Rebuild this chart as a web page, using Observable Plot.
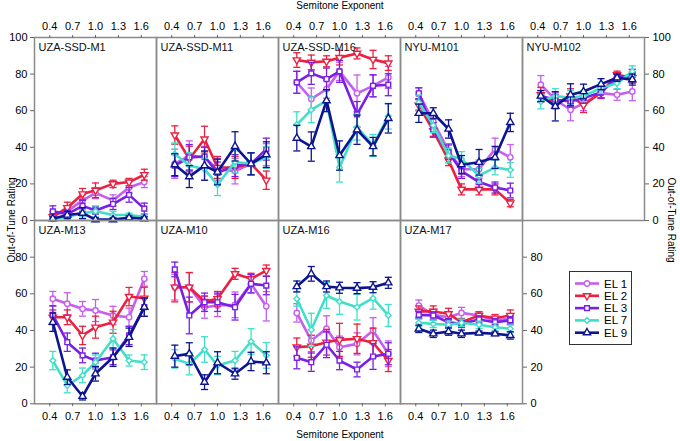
<!DOCTYPE html>
<html><head><meta charset="utf-8">
<script src="https://cdn.jsdelivr.net/npm/d3@7"></script>
<script src="https://cdn.jsdelivr.net/npm/@observablehq/plot@0.6"></script>
<style>
body{margin:0;background:#fff;font-family:"Liberation Sans",Arial,sans-serif;}
#wrap{position:relative;width:680px;height:441px;overflow:hidden;}
#wrap svg{overflow:visible;}
.abs{position:absolute;white-space:nowrap;color:#000;}
</style></head><body><div id="wrap"></div>
<script>
// ---------- data ----------
const exponents = [0.44, 0.63, 0.83, 1.0, 1.23, 1.44, 1.64];
const xTicks = [0.4, 0.7, 1.0, 1.3, 1.6];
const yTicksRow1 = [0, 20, 40, 60, 80, 100];
const yTicksRow2 = [0, 20, 40, 60, 80];
const seriesNames = ["EL 1", "EL 2", "EL 3", "EL 7", "EL 9"];
const seriesColors = ["#c65ef0", "#ec2140", "#7a1fe6", "#40e0c8", "#0c1490"];
const row1Panels = ["UZA-SSD-M1", "UZA-SSD-M11", "UZA-SSD-M16", "NYU-M101", "NYU-M102"];
const row2Panels = ["UZA-M13", "UZA-M10", "UZA-M16", "UZA-M17"];

// rows within each panel: EL 1, EL 2, EL 3, EL 7, EL 9
const meanUZASSDM1 = [
  [3, 5, 11, 15, 11, 18, 21],
  [2, 7, 14.5, 16.5, 20, 21, 25],
  [5, 3.5, 8, 5.5, 9, 14, 6.5],
  [1, 2, 4, 5, 3, 3, 2],
  [1, 3, 4, 0.5, 0.5, 1.5, 1]
];
const errUZASSDM1 = [
  [2, 2, 3, 3, 3, 3, 3],
  [2, 3, 3, 4, 2, 2, 3],
  [3, 2, 3, 2, 3, 4, 3],
  [1, 1, 2, 3, 2, 1, 1],
  [1, 2, 3, 1, 1, 1, 1]
];
const meanUZASSDM11 = [
  [31, 35.5, 34.5, 28, 27, 31, 36],
  [46.7, 33.6, 44.5, 29, 29, 31, 22],
  [30, 34.5, 35, 26, 30, 31, 39],
  [36.4, 30, 28, 19.6, 32, 31, 34.5],
  [30.5, 24, 30, 26.5, 40.5, 31, 36]
];
const errUZASSDM11 = [
  [8, 8, 6, 6, 7, 6, 6],
  [5, 7, 7, 6, 6, 6, 5],
  [6, 7, 5, 6, 6, 6, 6],
  [6, 7, 6, 6, 6, 6, 6],
  [6, 6, 8, 7, 8, 6, 7]
];
const meanUZASSDM16 = [
  [75.5, 66.4, 71.8, 81.5, 69.5, 73.6, 78.2],
  [87.7, 86.4, 87, 89, 91.3, 88, 86],
  [75.5, 80.4, 77.3, 81.5, 58, 73.6, 74.2],
  [52.4, 60.5, 65.5, 29, 51, 41, 57],
  [45, 40.4, 65.5, 35.5, 49.6, 40.4, 55.8]
];
const errUZASSDM16 = [
  [6, 6, 5, 5, 10, 6, 6],
  [4, 4, 3, 4, 3, 5, 4],
  [6, 6, 6, 6, 7, 6, 6],
  [7, 7, 6, 8, 7, 6, 7],
  [7, 8, 6, 8, 8, 5, 8]
];
const meanNYUM101 = [
  [69.5, 54, 38, 28, 28, 39, 34.5],
  [63, 49, 33, 17, 17, 17, 9.5],
  [69.5, 49.5, 37.3, 27, 21, 18, 16.4],
  [64.5, 52, 35.5, 33.6, 24.5, 29, 27.6],
  [58.6, 58.6, 50, 30.5, 31.8, 34.5, 53.6]
];
const errNYUM101 = [
  [3, 4, 4, 4, 5, 6, 7],
  [3, 3, 3, 3, 3, 3, 2],
  [3, 4, 4, 4, 3, 3, 4],
  [4, 4, 4, 4, 4, 4, 4],
  [5, 3, 5, 5, 7, 6, 5]
];
const meanNYUM102 = [
  [74.2, 66, 60.5, 64, 69.6, 68.7, 70.5],
  [68.7, 64, 68, 63, 70, 79.6, 78],
  [68, 66, 65, 67, 70, 78, 79.6],
  [65, 68, 67, 68, 72.4, 75, 81.5],
  [68, 62.4, 68.7, 70.5, 74.5, 78, 77]
];
const errNYUM102 = [
  [5, 4, 6, 4, 3, 3, 5],
  [4, 3, 4, 4, 3, 2, 3],
  [3, 3, 3, 3, 3, 2, 3],
  [4, 4, 4, 3, 3, 3, 3],
  [3, 8, 6, 4, 3, 2, 3]
];
const meanUZAM13 = [
  [57.3, 54.6, 51.8, 50.9, 48.2, 47.2, 68.2],
  [47.2, 47.2, 37.3, 41.8, 44.5, 58.5, 57.6],
  [48.5, 33.6, 26.4, 23.6, 25.4, 37.3, 52.7],
  [23.6, 10, 15.5, 22.7, 35.5, 23.6, 22.7],
  [44.5, 14.5, 4.1, 16.4, 25.4, 36.3, 52.7]
];
const errUZAM13 = [
  [4, 6, 4, 6, 5, 5, 4],
  [4, 4, 5, 6, 6, 5, 6],
  [5, 5, 4, 4, 4, 5, 5],
  [5, 4, 4, 4, 5, 3, 4],
  [5, 4, 2, 4, 5, 5, 5]
];
const meanUZAM10 = [
  [63.6, 63.6, 52.7, 53.6, 54, 65.5, 53.2],
  [63.6, 63.6, 55.8, 57.3, 70.9, 68.2, 72.7],
  [73.3, 48.2, 55.4, 55.4, 52.7, 65.5, 64.5],
  [24.5, 21.8, 29.6, 20.9, 23.6, 34, 26.4],
  [26, 27.3, 11.8, 22.4, 16.4, 23.1, 22.4]
];
const errUZAM10 = [
  [7, 8, 6, 6, 7, 5, 8],
  [8, 8, 3, 4, 3, 3, 3],
  [4, 10, 5, 5, 7, 5, 5],
  [5, 6, 7, 5, 5, 7, 7],
  [6, 6, 4, 6, 3, 5, 6]
];
const meanUZAM16 = [
  [49.6, 34.5, 41, 30.9, 32.7, 40, 27.3],
  [30.9, 31.4, 33.6, 34.9, 35.5, 33.3, 23.6],
  [25.1, 22.7, 32.2, 23.6, 18.7, 25.8, 27.3],
  [57.3, 40.4, 59.1, 55.8, 52.7, 57.6, 48.2],
  [64, 70.9, 64, 63.3, 63.1, 63.6, 66]
];
const errUZAM16 = [
  [5, 6, 7, 6, 6, 7, 7],
  [5, 6, 7, 9, 8, 8, 6],
  [6, 5, 7, 5, 4, 7, 6],
  [4, 9, 7, 7, 7, 6, 6],
  [3, 4, 3, 3, 3, 3, 3]
];
const meanUZAM17 = [
  [53.6, 48.5, 47.2, 49.6, 48.2, 45.5, 46.4],
  [50.4, 50.4, 49.1, 44.5, 48.2, 46.7, 48.2],
  [48.5, 48.2, 44.5, 43.6, 46, 44.5, 45.5],
  [44.2, 43.6, 43.1, 44.2, 43.1, 41.8, 40.9],
  [40.9, 38.2, 39.4, 38.2, 38.7, 38.2, 37.3]
];
const errUZAM17 = [
  [3, 3, 2, 3, 2, 2, 2],
  [3, 3, 3, 2, 2, 2, 3],
  [2, 2, 2, 2, 2, 2, 2],
  [2, 2, 2, 2, 2, 2, 2],
  [2, 2, 2, 2, 1, 1, 2]
];

const row1Means = [meanUZASSDM1, meanUZASSDM11, meanUZASSDM16, meanNYUM101, meanNYUM102];
const row1Errs = [errUZASSDM1, errUZASSDM11, errUZASSDM16, errNYUM101, errNYUM102];
const row2Means = [meanUZAM13, meanUZAM10, meanUZAM16, meanUZAM17];
const row2Errs = [errUZAM13, errUZAM10, errUZAM16, errUZAM17];

// ---------- symbols ----------
const triDown = {draw(ctx, size) {
  const s = Math.sqrt(size / (Math.sqrt(3) / 4));
  const h = s * Math.sqrt(3) / 2;
  ctx.moveTo(0, h * 2 / 3); ctx.lineTo(s / 2, -h / 3); ctx.lineTo(-s / 2, -h / 3); ctx.closePath();
}};
const triUp = {draw(ctx, size) {
  const s = Math.sqrt(size / (Math.sqrt(3) / 4));
  const h = s * Math.sqrt(3) / 2;
  ctx.moveTo(0, -h * 2 / 3); ctx.lineTo(s / 2, h / 3); ctx.lineTo(-s / 2, h / 3); ctx.closePath();
}};
const diamond = {draw(ctx, size) {
  const r = Math.sqrt(size / 2) * 0.85;
  ctx.moveTo(0, -r); ctx.lineTo(r, 0); ctx.lineTo(0, r); ctx.lineTo(-r, 0); ctx.closePath();
}};
const cap = {draw(ctx, size) {
  const w = Math.sqrt(size); ctx.moveTo(-w, 0); ctx.lineTo(w, 0);
}};
const seriesSymbols = ["circle", triDown, "square", diamond, triUp];

// ---------- build ----------
const wrap = document.getElementById("wrap");
const fmt = d3.format(".1f");

function rowPlot(panels, means, errs, opts) {
  const rows = [];
  panels.forEach((p, pi) => seriesNames.forEach((s, si) => exponents.forEach((x, xi) => {
    rows.push({panel: p, series: s, x, y: means[pi][si][xi], e: errs[pi][si][xi]});
  })));
  const marks = [];
  seriesNames.forEach((s, si) => {
    const d = rows.filter(r => r.series === s);
    const c = seriesColors[si];
    marks.push(
      Plot.ruleX(d, {x: "x", y1: r => r.y - r.e, y2: r => r.y + r.e, fx: "panel", stroke: c, strokeWidth: 1.3}),
      Plot.dot(d, {x: "x", y: r => r.y - r.e, fx: "panel", symbol: cap, r: 2, stroke: c, strokeWidth: 1.3, fill: "none"}),
      Plot.dot(d, {x: "x", y: r => r.y + r.e, fx: "panel", symbol: cap, r: 2, stroke: c, strokeWidth: 1.3, fill: "none"}),
      Plot.line(d, {x: "x", y: "y", fx: "panel", stroke: c, strokeWidth: 2.6}),
      Plot.dot(d, {x: "x", y: "y", fx: "panel", symbol: seriesSymbols[si], r: 2.7, stroke: c, strokeWidth: 1.4, fill: "white"})
    );
  });
  marks.push(
    Plot.frame({stroke: "#8a8a8a", strokeWidth: 1.5}),
    Plot.text(panels, {fx: d => d, text: d => d, frameAnchor: "top-left", dx: 4, dy: 6, fontSize: 11, fill: "#111"}),
    Plot.axisX({anchor: opts.xAnchor, facetAnchor: opts.xAnchor, ticks: xTicks, tickFormat: fmt, tickSize: 3, tickPadding: 5, fontSize: 11, label: null, stroke: "#666"}),
    Plot.axisY({anchor: "left", facetAnchor: "left", ticks: opts.yTicks, tickSize: 4, tickPadding: 3, fontSize: 11, label: null, stroke: "#666"}),
    Plot.axisY({anchor: "right", facetAnchor: "right", ticks: opts.yTicks, tickSize: 4, tickPadding: 4, fontSize: 11, label: null, stroke: "#666"})
  );
  return Plot.plot({
    width: opts.width, height: opts.height,
    marginLeft: 33, marginRight: 35, marginTop: opts.marginTop, marginBottom: opts.marginBottom,
    style: {fontFamily: "'Liberation Sans', Arial, sans-serif", background: "transparent", color: "#000", overflow: "visible"},
    x: {domain: [0.2, 1.8]},
    y: {domain: [0, 100]},
    fx: {domain: panels, padding: 0, axis: null, label: null},
    marks
  });
}

const p1 = rowPlot(row1Panels, row1Means, row1Errs, {width: 680, height: 221, marginTop: 37, marginBottom: 1, xAnchor: "top", yTicks: yTicksRow1});
p1.style.position = "absolute"; p1.style.left = "0px"; p1.style.top = "0px";
wrap.appendChild(p1);

const p2 = rowPlot(row2Panels, row2Means, row2Errs, {width: 558, height: 222, marginTop: 1, marginBottom: 37.7, xAnchor: "bottom", yTicks: yTicksRow2});
p2.style.position = "absolute"; p2.style.left = "0px"; p2.style.top = "219px";
wrap.appendChild(p2);

function label(text, css) {
  const el = document.createElement("div");
  el.className = "abs"; el.textContent = text;
  Object.assign(el.style, css);
  wrap.appendChild(el);
  return el;
}
label("Semitone Exponent", {left: "340px", top: "0px", fontSize: "10px", transform: "translateX(-50%)"});
label("Semitone Exponent", {left: "340px", top: "429px", fontSize: "10px", transform: "translateX(-50%)"});
label("Out-of-Tune Rating", {left: "11px", top: "220px", fontSize: "10px", transform: "translate(-50%,-50%) rotate(-90deg)"});
label("Out-of-Tune Rating", {left: "671px", top: "220px", fontSize: "10px", transform: "translate(-50%,-50%) rotate(90deg)"});

// legend
const lg = d3.create("svg").attr("width", 64).attr("height", 75)
  .style("position", "absolute").style("left", "569px").style("top", "271px")
  .style("font-family", "'Liberation Sans', Arial, sans-serif");
lg.append("rect").attr("x", 0.5).attr("y", 0.5).attr("width", 62).attr("height", 73)
  .attr("fill", "white").attr("stroke", "#333");
seriesNames.forEach((s, i) => {
  const yy = 12.5 + i * 12.3;
  const g = lg.append("g").attr("transform", `translate(0,${yy})`);
  g.append("line").attr("x1", 6).attr("x2", 30).attr("y1", 0).attr("y2", 0)
    .attr("stroke", seriesColors[i]).attr("stroke-width", 2.6);
  const sym = seriesSymbols[i];
  const type = sym === "circle" ? d3.symbolCircle : sym === "square" ? d3.symbolSquare : sym;
  g.append("path").attr("transform", "translate(18,0)").attr("d", d3.symbol(type, Math.PI * 2.7 * 2.7)())
    .attr("fill", "white").attr("stroke", seriesColors[i]).attr("stroke-width", 1.4);
  g.append("text").attr("x", 35).attr("y", 0).attr("dy", "0.35em").attr("font-size", 11.5).text(s);
});
wrap.appendChild(lg.node());
</script>
</body></html>
